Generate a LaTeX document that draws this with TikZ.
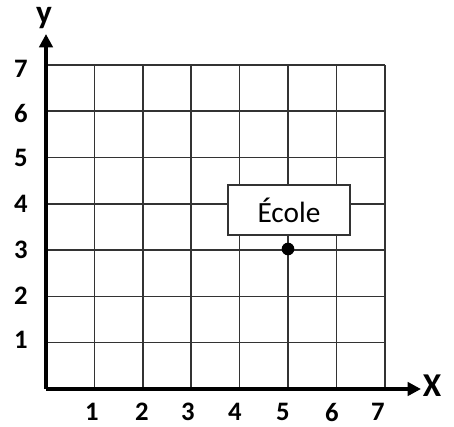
\documentclass[tikz,border=0pt]{standalone}
\usepackage{fontspec}
\setmainfont{Carlito}
\usetikzlibrary{arrows.meta}
\begin{document}
\begin{tikzpicture}[x=0.75pt,y=-0.75pt,
  gridline/.style={line width=1.1pt, draw=black!80},
  axisline/.style={line width=3pt, -{Triangle[length=10pt,width=10pt]}},
  ticklabel/.style={font=\fontsize{20}{20}\selectfont\bfseries, inner sep=0pt},
  axislabel/.style={font=\fontsize{25}{25}\selectfont\bfseries, inner sep=0pt},
  boxstyle/.style={draw=black!80, line width=0.8pt, fill=white, minimum width=91.5pt, minimum height=37.5pt, inner sep=0pt, font=\fontsize{22}{22}\selectfont},
  dotstyle/.style={circle, fill=black, inner sep=0pt, minimum size=9.5pt}]
\useasboundingbox (0,0) rectangle (454,426);
% grid
\foreach \i in {1,...,7} {
  \draw[gridline] (46+48.4*\i,65) -- (46+48.4*\i,389);
  \draw[gridline] (46,389-46.3*\i) -- (385,389-46.3*\i);
}
% axes
\coordinate (O) at (46,389);
\coordinate (yend) at (46,34);
\coordinate (xend) at (421,389);
\draw[axisline] (O) -- (yend);
\draw[axisline] (O) -- (xend);
\node[axislabel] (ylab) at (44,18) {y};
\node[axislabel] (xlab) at (432,386) {X};
% tick labels
\foreach \i/\xx in {1/92,2/142,3/188,4/235,5/283,6/332,7/378} {
  \node[ticklabel] (xt\i) at (\xx,412) {\i};
}
\foreach \i/\yy in {1/340,2/296,3/250,4/204,5/158,6/113,7/69} {
  \node[ticklabel] (yt\i) at (21,\yy) {\i};
}
% school
\node[boxstyle] (ecole) at (289,210) {École\hspace{12pt}};
\node[dotstyle] (dot) at (288,249) {};
\end{tikzpicture}
\end{document}
